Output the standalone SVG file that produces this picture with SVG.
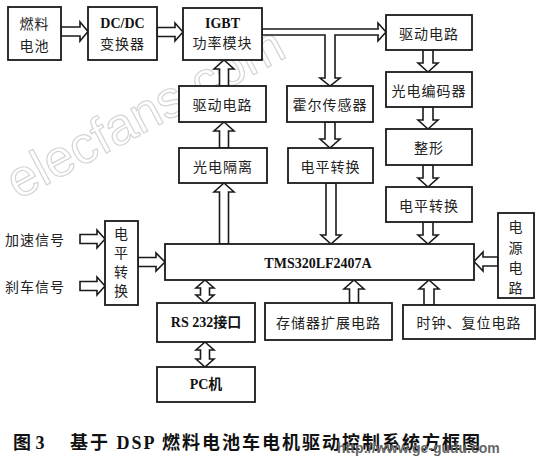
<svg xmlns="http://www.w3.org/2000/svg" width="545" height="460" viewBox="0 0 545 460">
<style>
.box{fill:#fff;stroke:#1a1a1a;stroke-width:1.8}
.arr{fill:#fff;stroke:#1a1a1a;stroke-width:1.6;stroke-linejoin:miter}
.t{font-family:"Noto Sans CJK SC","Liberation Serif",serif;font-size:14px;fill:#222;text-anchor:middle;dominant-baseline:central;letter-spacing:1px}
.b{font-family:"Liberation Serif","Noto Sans CJK SC",serif;font-weight:bold;font-size:14px;fill:#111;text-anchor:middle;dominant-baseline:central}
.wm{font-family:"Liberation Sans",sans-serif;font-size:52px;fill:none;stroke:#d4d4d4;stroke-width:1.2}
.cap{font-family:"Liberation Serif","Noto Sans CJK SC",serif;font-weight:bold;font-size:18px;fill:#111;dominant-baseline:central}
</style>
<rect width="545" height="460" fill="#fff"/>
<text class="wm" transform="translate(18,200) rotate(-28)">elecfans.com</text>

<g id="connectors">
<polygon class="arr" points="61,27 80,27 80,22 88,31.5 80,41 80,36 61,36"/>
<polygon class="arr" points="157,27.5 175,27.5 175,23 183,32 175,41 175,36.5 157,36.5"/>
<polygon class="arr" points="262,29 378,29 378,23 386,32 378,41 378,35 335,35 335,78 340,78 330,86 320,78 325,78 325,35 262,35"/>
<polygon class="arr" points="219.5,86 219.5,69 214,69 224,60 234,69 228.5,69 228.5,86"/>
<polygon class="arr" points="219.5,148 219.5,131 214,131 224,122 234,131 228.5,131 228.5,148"/>
<polygon class="arr" points="219.5,244 219.5,192 214,192 224,183 234,192 228.5,192 228.5,244"/>
<polygon class="arr" points="325,122 325,139 320,139 330,148 340,139 335,139 335,122"/>
<polygon class="arr" points="326,183 326,235 321,235 331,244 341,235 336,235 336,183"/>
<polygon class="arr" points="423,50 423,63 418,63 428,72 438,63 433,63 433,50"/>
<polygon class="arr" points="423,107 423,120 418,120 428,129 438,120 433,120 433,107"/>
<polygon class="arr" points="423,165 423,178 418,178 428,187 438,178 433,178 433,165"/>
<polygon class="arr" points="423,222 423,235 418,235 428,244 438,235 433,235 433,222"/>
<polygon class="arr" points="498,257 483,257 483,252 474,261.5 483,271 483,266 498,266"/>
<polygon class="arr" points="424,305 424,289 419,289 429,280 439,289 434,289 434,305"/>
<polygon class="arr" points="349.5,303 349.5,289 344,289 354,280 364,289 358.5,289 358.5,303"/>
<polygon class="arr" points="205,280 214,288 209.5,288 209.5,295 214,295 205,303 196,295 200.5,295 200.5,288 196,288"/>
<polygon class="arr" points="205,342 214,350 209.5,350 209.5,359 214,359 205,367 196,359 200.5,359 200.5,350 196,350"/>
<polygon class="arr" points="80,234.5 97,234.5 97,230 105,239 97,248 97,243.5 80,243.5"/>
<polygon class="arr" points="80,281.5 97,281.5 97,277 105,286 97,295 97,290.5 80,290.5"/>
<polygon class="arr" points="138,257.5 156,257.5 156,253 165,262 156,271 156,266.5 138,266.5"/>
</g>

<g id="fuelcell"><rect class="box" x="8" y="7" width="53" height="53"/><text class="t" x="34.5" y="23">燃料</text><text class="t" x="34.5" y="45">电池</text></g>
<g id="dcdc"><rect class="box" x="88" y="7" width="69" height="53"/><text class="b" x="122.5" y="23">DC/DC</text><text class="t" x="122.5" y="43">变换器</text></g>
<g id="igbt"><rect class="box" x="183" y="8" width="79" height="52"/><text class="b" x="222.5" y="23">IGBT</text><text class="t" x="222.5" y="42">功率模块</text></g>
<g id="drive-right"><rect class="box" x="386" y="15" width="86" height="35"/><text class="t" x="429" y="32.5">驱动电路</text></g>
<g id="encoder"><rect class="box" x="386" y="72" width="86" height="35"/><text class="t" x="429" y="89.5">光电编码器</text></g>
<g id="shaping"><rect class="box" x="386" y="129" width="86" height="36"/><text class="t" x="429" y="147">整形</text></g>
<g id="level-right"><rect class="box" x="386" y="187" width="86" height="35"/><text class="t" x="429" y="204.5">电平转换</text></g>
<g id="drive-left"><rect class="box" x="179" y="86" width="87" height="36"/><text class="t" x="222.5" y="104">驱动电路</text></g>
<g id="hall"><rect class="box" x="287" y="86" width="86" height="36"/><text class="t" x="330" y="104">霍尔传感器</text></g>
<g id="opto"><rect class="box" x="179" y="148" width="88" height="35"/><text class="t" x="223" y="165.5">光电隔离</text></g>
<g id="level-mid"><rect class="box" x="288" y="148" width="85" height="35"/><text class="t" x="330.5" y="165.5">电平转换</text></g>
<g id="tms"><rect class="box" x="165" y="244" width="309" height="36"/><text class="b" x="318" y="263">TMS320LF2407A</text></g>
<g id="level-left"><rect class="box" x="105" y="221" width="33" height="84"/><text class="t" x="121.5" y="233">电</text><text class="t" x="121.5" y="252">平</text><text class="t" x="121.5" y="271">转</text><text class="t" x="121.5" y="290">换</text></g>
<g id="accel"><text class="t" x="35" y="239">加速信号</text></g>
<g id="brake"><text class="t" x="35" y="286">刹车信号</text></g>
<g id="power"><rect class="box" x="498" y="213" width="36" height="85"/><text class="t" x="516" y="226">电</text><text class="t" x="516" y="247">源</text><text class="t" x="516" y="267">电</text><text class="t" x="516" y="287">路</text></g>
<g id="clock"><rect class="box" x="403" y="305" width="132" height="34"/><text class="t" x="469" y="322">时钟、复位电路</text></g>
<g id="memory"><rect class="box" x="265" y="303" width="127" height="37"/><text class="t" x="328.5" y="321.5">存储器扩展电路</text></g>
<g id="rs232"><rect class="box" x="157" y="303" width="98" height="39"/><text class="b" x="206" y="322.5">RS 232接口</text></g>
<g id="pc"><rect class="box" x="157" y="367" width="98" height="35"/><text class="b" x="206" y="384.5">PC机</text></g>

<text class="cap" x="13" y="443">图 3<tspan x="70" letter-spacing="2">基于 DSP 燃料电池车电机驱动控制系统方框图</tspan></text>
<text x="337" y="448" font-family="Liberation Sans,sans-serif" font-weight="bold" font-size="14" fill="#666" dominant-baseline="central">http://www.ge-gudu.com</text>
</svg>
